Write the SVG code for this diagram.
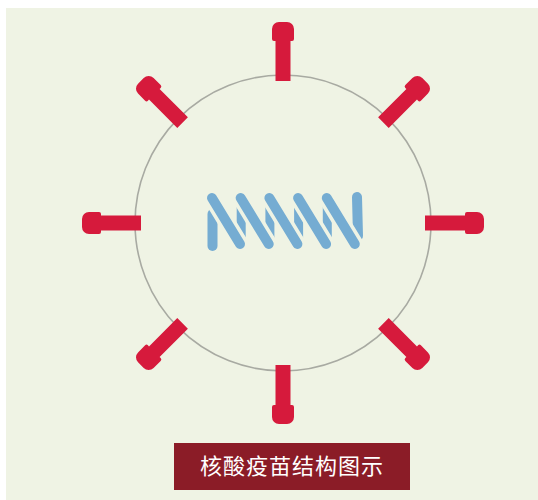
<svg xmlns="http://www.w3.org/2000/svg" width="538" height="500" viewBox="0 0 538 500">
  <style>
    .spike { fill: #d61a3c; }
    .shell { fill: none; stroke: #a8aaa2; stroke-width: 1.6; }
    .gap { stroke: #eff3e4; stroke-width: 17; stroke-linecap: round; fill: none; }
    .strand { stroke: #75acd2; stroke-width: 10; stroke-linecap: round; fill: none; }
    .rear { stroke: #75acd2; stroke-width: 9; stroke-linecap: butt; fill: none; }
    .title { fill: #ffffff; font-family: "Noto Sans CJK SC", "Noto Sans", sans-serif; font-size: 22px; }
  </style>
  <defs>
    <!-- one spike pointing straight up from the particle centre -->
    <path id="spikeShape" d="M -7.5 -142 L -7.5 -182 L -9 -182 Q -11 -182 -11 -184 L -11 -194 A 7 7 0 0 1 -4 -201 L 4 -201 A 7 7 0 0 1 11 -194 L 11 -184 Q 11 -182 9 -182 L 7.5 -182 L 7.5 -142 Z"/>
  </defs>

  <!-- page -->
  <rect x="0" y="0" width="538" height="500" fill="#ffffff"/>
  <rect x="6" y="8" width="532" height="492" fill="#eff3e4"/>

  <!-- particle shell -->
  <g id="shell">
    <circle class="shell" cx="283" cy="223" r="148"/>
  </g>

  <!-- surface spikes -->
  <g id="spikes" transform="translate(283 223)">
    <use class="spike" href="#spikeShape"/>
    <use class="spike" href="#spikeShape" transform="rotate(45)"/>
    <use class="spike" href="#spikeShape" transform="rotate(90)"/>
    <use class="spike" href="#spikeShape" transform="rotate(135)"/>
    <use class="spike" href="#spikeShape" transform="rotate(180)"/>
    <use class="spike" href="#spikeShape" transform="rotate(225)"/>
    <use class="spike" href="#spikeShape" transform="rotate(270)"/>
    <use class="spike" href="#spikeShape" transform="rotate(315)"/>
  </g>

  <!-- nucleic acid coil -->
  <g id="coil">
    <!-- rear turns, only the parts between front turns show -->
    <line class="strand" x1="212.5" y1="214" x2="212.5" y2="246"/>
    <line class="rear" x1="241.2" y1="206" x2="241.2" y2="238"/>
    <line class="rear" x1="269.9" y1="206" x2="269.9" y2="238"/>
    <line class="rear" x1="298.6" y1="206" x2="298.6" y2="238"/>
    <line class="rear" x1="327.3" y1="206" x2="327.3" y2="238"/>
    <line class="strand" x1="357" y1="197" x2="358" y2="236"/>
    <!-- front turns -->
    <line class="gap" x1="212" y1="198" x2="240" y2="244"/>
    <line class="strand" x1="212" y1="198" x2="240" y2="244"/>
    <line class="gap" x1="240.7" y1="198" x2="268.7" y2="244"/>
    <line class="strand" x1="240.7" y1="198" x2="268.7" y2="244"/>
    <line class="gap" x1="269.4" y1="198" x2="297.4" y2="244"/>
    <line class="strand" x1="269.4" y1="198" x2="297.4" y2="244"/>
    <line class="gap" x1="298.1" y1="198" x2="326.1" y2="244"/>
    <line class="strand" x1="298.1" y1="198" x2="326.1" y2="244"/>
    <line class="gap" x1="326.8" y1="198" x2="354.8" y2="244"/>
    <line class="strand" x1="326.8" y1="198" x2="354.8" y2="244"/>
  </g>

  <!-- caption -->
  <g id="caption">
    <rect x="174" y="443" width="236" height="47" fill="#8b1c27"/>
    <text class="title" x="292" y="474" text-anchor="middle" letter-spacing="1">核酸疫苗结构图示</text>
  </g>
</svg>
